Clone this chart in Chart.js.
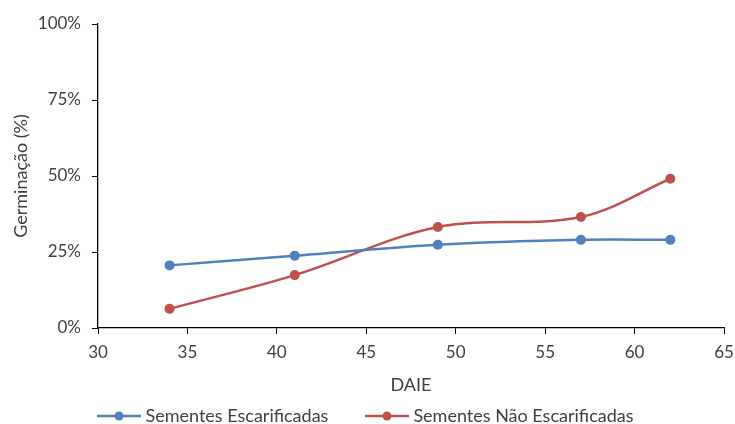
<!DOCTYPE html>
<html>
<head>
<meta charset="utf-8">
<script src="https://cdn.jsdelivr.net/npm/chart.js@4"></script>
<style>
html,body{margin:0;padding:0;background:#fff;}
#wrap{width:735px;height:424px;position:relative;}
</style>
</head>
<body>
<div id="wrap"><canvas id="c" width="735" height="424"></canvas></div>
<script>
const daie = [34, 41, 49, 57, 62];
const escarificadas = [20.6, 23.8, 27.4, 29.0, 29.0];
const naoEscarificadas = [6.3, 17.4, 33.2, 36.5, 49.1];
const seriesNames = ['Sementes Escarificadas', 'Sementes Não Escarificadas'];
const xTicks = [30, 35, 40, 45, 50, 55, 60, 65];
const yTicks = [0, 25, 50, 75, 100];

const BLUE = '#4F81BD';
const RED = '#C0504D';
const TEXT = '#404040';
const FONT = 'Lato';
const FT = 17;   // tick font
const FL = 18;   // legend / titles font

function legendIcon(color) {
  const c = document.createElement('canvas');
  c.width = 44; c.height = 12;
  const g = c.getContext('2d');
  g.strokeStyle = color; g.lineWidth = 2.5;
  g.beginPath(); g.moveTo(0, 6); g.lineTo(44, 6); g.stroke();
  g.fillStyle = color;
  g.beginPath(); g.arc(22, 6, 4.5, 0, Math.PI * 2); g.fill();
  return c;
}
const icons = [legendIcon(BLUE), legendIcon(RED)];

function pts(vals) { return daie.map((x, i) => ({x: x, y: vals[i]})); }

new Chart(document.getElementById('c'), {
  type: 'line',
  data: {
    datasets: [
      {label: seriesNames[0], data: pts(escarificadas), borderColor: BLUE, backgroundColor: BLUE,
       borderWidth: 2.5, pointRadius: 5, pointBorderWidth: 0, tension: 0.3, fill: false},
      {label: seriesNames[1], data: pts(naoEscarificadas), borderColor: RED, backgroundColor: RED,
       borderWidth: 2.5, pointRadius: 5, pointBorderWidth: 0, tension: 0.35, fill: false}
    ]
  },
  options: {
    responsive: false,
    animation: false,
    devicePixelRatio: 1,
    layout: {padding: {top: 24, right: 0, left: 0, bottom: -11}},
    plugins: {
      tooltip: {enabled: false},
      legend: {
        position: 'bottom',
        labels: {
          color: TEXT,
          font: {family: FONT, size: FL},
          usePointStyle: true,
          pointStyleWidth: 35,
          padding: 41,
          generateLabels: function(chart) {
            return chart.data.datasets.map((ds, i) => ({
              text: ds.label, fillStyle: ds.borderColor, strokeStyle: ds.borderColor,
              pointStyle: icons[i], lineWidth: 0, hidden: false, datasetIndex: i, fontColor: TEXT
            }));
          }
        }
      }
    },
    scales: {
      x: {
        type: 'linear', min: 30, max: 65,
        afterBuildTicks: s => { s.ticks = xTicks.map(v => ({value: v})); },
        afterFit: s => { s.height = 38; s.paddingRight = 11; },
        grid: {display: true, drawOnChartArea: false, drawTicks: true, tickLength: 6, color: '#000', lineWidth: 1},
        border: {display: true, color: '#000', width: 1.3},
        ticks: {color: TEXT, font: {family: FONT, size: FT}, padding: 8, maxRotation: 0},
        title: {display: true, text: 'DAIE', color: TEXT, font: {family: FONT, size: FL}, padding: {top: 0, bottom: -29.8}}
      },
      y: {
        type: 'linear', min: 0, max: 100,
        afterBuildTicks: s => { s.ticks = yTicks.map(v => ({value: v})); },
        afterFit: s => { s.width = 98; },
        grid: {display: true, drawOnChartArea: false, drawTicks: true, tickLength: 6, color: '#000', lineWidth: 1},
        border: {display: true, color: '#000', width: 1.3},
        ticks: {color: TEXT, font: {family: FONT, size: FT}, padding: 11, callback: v => v + '%'},
        title: {display: true, text: 'Germinação (%)', color: TEXT, font: {family: FONT, size: FL}, padding: {top: 10, bottom: 0}}
      }
    }
  }
});
</script>
</body>
</html>
